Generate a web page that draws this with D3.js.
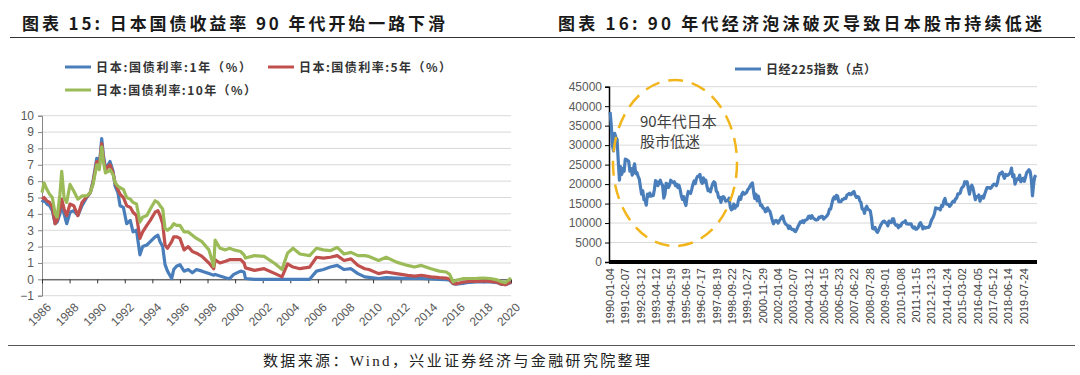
<!DOCTYPE html>
<html>
<head>
<meta charset="utf-8">
<script src="https://cdn.jsdelivr.net/npm/d3@7"></script>
<style>
body{margin:0;background:#fff}
svg{display:block}
text{font-family:"Liberation Sans",Arial,sans-serif}
.cjk{font-family:"Noto Sans CJK SC",sans-serif}
</style>
</head>
<body>
<svg id="chart" width="1080" height="375"></svg>
<script>
// ---- left chart: JGB yields (decimal years, %) ----
var yieldDates = [1986.0,1986.15,1986.35,1986.55,1986.75,1986.95,1987.1,1987.3,1987.43,1987.6,1987.79,1988.03,1988.3,1988.6,1988.9,
	1989.24,1989.5,1989.7,1989.97,1990.15,1990.33,1990.45,1990.6,1990.8,1990.93,1991.15,1991.3,1991.5,1991.66,1991.9,
	1992.14,1992.4,1992.6,1992.85,1993.1,1993.3,1993.6,1993.85,1994.2,1994.4,1994.56,1994.75,1994.92,1995.1,1995.4,
	1995.55,1995.75,1996.0,1996.3,1996.6,1996.9,1997.2,1997.6,1998.1,1998.45,1998.55,1998.9,1999.3,1999.6,1999.9,
	2000.4,2000.65,2000.75,2001.4,2002.1,2002.9,2003.4,2003.8,2004.2,2004.7,2005.4,2005.9,2006.4,2006.9,2007.4,
	2007.9,2008.4,2008.9,2009.4,2009.7,2010.4,2010.95,2011.7,2012.5,2013.0,2013.5,2014.2,2014.8,2015.3,2015.55,
	2015.8,2016.0,2016.5,2017.0,2017.5,2018.0,2018.5,2019.0,2019.3,2019.6,2020.0];
var jgb1y = [4.7,4.9,4.6,4.5,4.2,3.4,3.5,4.0,4.5,4.0,3.4,4.1,4.2,3.9,4.5,
	5.0,5.3,6.0,7.4,6.9,8.6,7.6,6.8,7.0,7.2,6.6,5.7,5.3,4.5,4.4,
	3.4,3.6,2.9,3.0,1.5,2.0,2.1,2.3,2.6,2.7,2.3,2.0,0.9,0.5,0.05,
	0.6,0.8,0.9,0.5,0.6,0.4,0.6,0.5,0.35,0.25,0.3,0.2,0.1,0.04,0.3,
	0.5,0.45,0.05,0.0,0.0,0.0,0.0,0.0,0.0,0.0,0.0,0.5,0.6,0.75,0.85,
	0.6,0.65,0.35,0.15,0.12,0.05,0.1,0.08,0.05,0.05,0.05,0.03,0.0,-0.02,-0.05,
	-0.27,-0.3,-0.25,-0.18,-0.15,-0.14,-0.15,-0.2,-0.3,-0.32,-0.2];
var jgb5y = [4.9,5.0,4.8,4.7,4.4,3.4,3.6,4.3,4.9,4.3,3.9,4.6,4.5,3.9,4.7,
	5.05,5.3,5.9,7.2,6.9,8.3,7.4,6.7,6.9,7.0,6.5,5.9,5.5,5.2,5.0,
	4.5,4.4,4.1,3.9,2.5,2.9,3.3,3.6,4.1,4.2,3.9,3.4,2.1,1.9,2.3,
	2.6,2.6,2.5,1.8,2.0,1.7,1.6,1.4,1.0,0.65,1.2,1.0,1.1,1.2,1.2,
	1.2,1.0,0.7,0.55,0.65,0.35,0.15,0.95,0.75,0.65,0.75,1.35,1.3,1.35,1.45,
	1.15,1.25,0.85,0.65,0.6,0.35,0.45,0.35,0.24,0.2,0.25,0.15,0.1,0.08,0.0,
	-0.25,-0.28,-0.18,-0.12,-0.12,-0.1,-0.12,-0.18,-0.3,-0.33,-0.15];
var jgb10y = [5.3,5.9,5.5,5.2,5.0,4.0,3.8,5.2,6.6,5.0,4.7,5.8,5.4,4.9,5.1,
	5.1,5.3,5.8,7.0,6.7,8.1,7.2,6.5,6.6,6.7,6.4,5.9,5.7,5.6,5.5,
	5.0,4.9,4.7,4.6,3.5,3.8,3.9,4.3,4.8,4.7,4.5,4.3,3.1,3.0,3.2,
	3.4,3.3,3.3,2.9,2.9,2.7,2.5,2.3,1.8,0.8,2.4,1.9,1.8,1.9,1.8,
	1.7,1.5,1.3,1.45,1.4,0.95,0.6,1.6,1.9,1.55,1.45,1.9,1.8,1.75,1.95,
	1.55,1.65,1.45,1.45,1.4,1.15,1.35,1.05,0.85,0.75,0.85,0.65,0.5,0.45,0.3,
	-0.15,-0.06,0.04,0.05,0.06,0.08,0.05,-0.03,-0.15,-0.2,0.08];
var yieldNames = ['日本:国债利率:1年（%）','日本:国债利率:5年（%）','日本:国债利率:10年（%）'];
var yieldColors = ['#4A7EBB','#C0504D','#9BBB59'];
var yearTicks = [1986,1988,1990,1992,1994,1996,1998,2000,2002,2004,2006,2008,2010,2012,2014,2016,2018,2020];

// ---- right chart: Nikkei 225 monthly, starting 1990-01 ----
var nikkeiStart = new Date(1990, 0, 4);
var nikkei = [
	38500,35000,30000,28500,33000,32000,31500,26000,21000,24500,22500,24000, //1990
	23300,26400,26300,26100,25800,23300,24000,22300,23900,25200,22700,23000, //1991
	22000,21300,19300,17400,18300,16000,15900,14600,17400,16800,17700,16900, //1992
	17000,17100,18600,20900,20600,19600,20400,21000,20100,19700,16400,17400, //1993
	20200,20000,19100,19700,21000,20600,20400,20600,19600,20000,19100,19700, //1994
	18600,17000,16100,16800,15400,14500,16700,18100,17900,17600,18700,19900, //1995
	20800,20100,21400,22000,22000,22500,20700,20200,21600,20500,21000,19400, //1996
	18300,18600,18000,19200,20100,20600,20300,18200,17900,16500,16600,15300, //1997
	16600,16800,16500,15600,15700,15800,16400,14100,13400,13600,14900,13800, //1998
	14500,14400,15800,16700,16100,17500,17900,17400,17600,17900,18600,18900, //1999
	19500,20000,20300,18000,16300,17400,15700,16900,15700,14500,14600,13800, //2000
	13800,12900,13000,13900,13300,13000,11900,10700,9800,10400,10700,10500,  //2001
	10000,10600,11000,11500,11800,10600,9900,9600,9400,8600,9200,8600,       //2002
	8300,8400,8000,7800,8400,9100,9600,10300,10200,10600,10100,10700,        //2003
	10800,11000,11700,11800,11200,11900,11300,11100,10800,10800,10900,11500, //2004
	11400,11700,11700,11000,11300,11600,11900,12400,13600,13600,14900,16100, //2005
	16700,16200,17100,16900,15500,15500,15500,16100,16100,16400,16300,17200, //2006
	17400,17600,17300,17400,17900,18100,17200,16600,16800,16700,15700,15300, //2007
	13600,13600,12500,13800,14300,13500,13400,13100,11300,8600,8500,8900,    //2008
	8000,7600,8100,8800,9500,10000,10400,10500,10100,10000,9300,10500,       //2009
	10200,10100,11100,11100,9800,9400,9500,8800,9400,9200,9900,10200,        //2010
	10200,10600,9800,9800,9700,9800,9800,9000,8700,9000,8400,8500,           //2011
	8800,9700,10100,9500,8500,9000,8700,8800,8900,8900,9400,10400,           //2012
	11100,11600,12400,13900,13800,13700,13700,13400,14500,14300,15700,16300, //2013
	14900,14800,14800,14300,14600,15200,15600,15400,16200,16400,17500,17500, //2014
	17700,18800,19200,19500,20600,20200,20600,18900,17400,19100,19700,19000, //2015
	17500,16000,16800,16700,17200,15600,16600,16900,16400,17400,18300,19100, //2016
	19000,19100,18900,19200,19700,20000,19900,19600,20400,22000,22700,22800, //2017
	23100,22100,21500,22500,22200,22300,22600,22900,24100,21900,22400,20000, //2018
	20800,21400,21200,22300,20600,21300,21500,20700,21800,22900,23300,23700, //2019
	23200,21100,17000,20200,21900,22300                                      //2020
];
var nikkeiLabels = ['1990-01-04','1991-02-07','1992-03-12','1993-04-12','1994-05-19','1995-06-19','1996-07-17',
	'1997-08-19','1998-09-22','1999-10-27','2000-11-29','2002-01-04','2003-02-07','2004-03-12','2005-04-15',
	'2006-05-23','2007-06-22','2008-07-28','2009-09-01','2010-10-08','2011-11-15','2012-12-13','2014-01-24',
	'2015-03-02','2016-04-05','2017-05-12','2018-06-14','2019-07-24'];
var nikkeiTicks = [0,5000,10000,15000,20000,25000,30000,35000,40000,45000];

var svg = d3.select('#chart');

///////////////////////////
// headers and footer
///////////////////////////
function drawFrame(){
	svg.append('text').attr('class','cjk')
		.attr('x', 22).attr('y', 30)
		.attr('textLength', 423).attr('lengthAdjust','spacing')
		.style('font-size','17px').style('font-weight','bold').style('fill','#1a1a1a')
		.text('图表 15: 日本国债收益率 90 年代开始一路下滑');
	svg.append('text').attr('class','cjk')
		.attr('x', 558).attr('y', 30)
		.attr('textLength', 484).attr('lengthAdjust','spacing')
		.style('font-size','17px').style('font-weight','bold').style('fill','#1a1a1a')
		.text('图表 16: 90 年代经济泡沫破灭导致日本股市持续低迷');
	svg.append('line').attr('x1',10).attr('x2',1075).attr('y1',37.5).attr('y2',37.5)
		.attr('stroke','#333').attr('stroke-width',1);
	svg.append('line').attr('x1',8).attr('x2',1075).attr('y1',345.5).attr('y2',345.5)
		.attr('stroke','#555').attr('stroke-width',1);
	svg.append('text')
		.attr('x', 263).attr('y', 366)
		.attr('textLength', 387).attr('lengthAdjust','spacing')
		.style('font-family','"Liberation Serif","Noto Sans CJK SC",serif')
		.style('font-size','15px').style('fill','#222')
		.text('数据来源：Wind，兴业证券经济与金融研究院整理');
}

///////////////////////////
// left chart
///////////////////////////
function drawYields(){
	var x = d3.scaleLinear().domain([1986, 2020]).range([42, 511]);
	var y = d3.scaleLinear().domain([-1, 10]).range([295.7, 115.7]);
	var g = svg.append('g');

	// grid
	g.selectAll('line.grid').data(d3.range(-1, 11)).enter()
		.append('line')
		.attr('x1', x(1986)).attr('x2', x(2020))
		.attr('y1', function(d){return y(d)}).attr('y2', function(d){return y(d)})
		.attr('stroke', '#D9D9D9').attr('stroke-width', 1);

	var yAxis = g.append('g').attr('transform','translate('+x(1986)+',0)')
		.call(d3.axisLeft(y).tickValues(d3.range(-1, 11)).tickSize(4).tickPadding(4).tickFormat(d3.format('d')));
	yAxis.select('.domain').attr('stroke','#868686');
	yAxis.selectAll('.tick line').attr('stroke','#868686');
	yAxis.selectAll('text').style('font-size','12px').style('fill','#595959')
		.style('font-family','"Liberation Sans",Arial,sans-serif');

	var xAxis = g.append('g').attr('transform','translate(0,'+y(0)+')')
		.call(d3.axisBottom(x).tickValues(yearTicks).tickSize(4).tickFormat(''));
	xAxis.select('.domain').attr('stroke','#333');
	xAxis.selectAll('.tick line').attr('stroke','#333');

	g.selectAll('text.yr').data(yearTicks).enter()
		.append('text')
		.attr('transform', function(d){return 'translate('+(x(d)+4)+',302) rotate(-45)'})
		.attr('text-anchor','end').attr('dy','0.7em')
		.style('font-size','12px').style('fill','#595959')
		.text(function(d){return d});

	var series = [jgb1y, jgb5y, jgb10y];
	var line = d3.line()
		.x(function(d,i){return x(yieldDates[i])})
		.y(function(d){return y(d)});
	g.selectAll('path.yld').data(series).enter()
		.append('path')
		.attr('d', line)
		.attr('fill','none')
		.attr('stroke', function(d,i){return yieldColors[i]})
		.attr('stroke-width', 3.2)
		.attr('stroke-linejoin','round');

	// legend
	var pos = [[65,67],[268,67],[65,90]];
	var widths = [155, 152, 160];
	yieldNames.forEach(function(n, i){
		g.append('line')
			.attr('x1', pos[i][0]).attr('x2', pos[i][0]+26)
			.attr('y1', pos[i][1]).attr('y2', pos[i][1])
			.attr('stroke', yieldColors[i]).attr('stroke-width', 3);
		g.append('text').attr('class','cjk')
			.attr('x', pos[i][0]+31).attr('y', pos[i][1]+4.5)
			.attr('textLength', widths[i]).attr('lengthAdjust','spacing')
			.style('font-size','12px').style('font-weight','bold').style('fill','#333')
			.text(n);
	});
}

///////////////////////////
// right chart
///////////////////////////
function drawNikkei(){
	var dates = nikkei.map(function(d,i){return d3.timeMonth.offset(nikkeiStart, i)});
	var x = d3.scaleTime().domain([new Date(1990,0,1), new Date(2020,5,30)]).range([610, 1037]);
	var y = d3.scaleLinear().domain([0, 45000]).range([262, 86.7]);
	var g = svg.append('g');

	g.selectAll('line.grid').data(nikkeiTicks.slice(1)).enter()
		.append('line')
		.attr('x1', 609).attr('x2', 1037)
		.attr('y1', function(d){return y(d)}).attr('y2', function(d){return y(d)})
		.attr('stroke', '#D9D9D9').attr('stroke-width', 1);

	var yAxis = g.append('g').attr('transform','translate(609,0)')
		.call(d3.axisLeft(y).tickValues(nikkeiTicks).tickSize(4).tickPadding(3).tickFormat(d3.format('d')));
	yAxis.select('.domain').attr('stroke','#000').attr('stroke-width',1.5);
	yAxis.selectAll('.tick line').attr('stroke','#000');
	yAxis.selectAll('text').style('font-size','12px').style('fill','#595959')
		.style('font-family','"Liberation Sans",Arial,sans-serif');

	var line = d3.line()
		.x(function(d,i){return x(dates[i])})
		.y(function(d){return y(d)});
	g.append('path').datum(nikkei)
		.attr('d', line)
		.attr('fill','none')
		.attr('stroke','#4A7EBB')
		.attr('stroke-width', 3.2)
		.attr('stroke-linejoin','round');

	// thick category axis
	g.append('line').attr('x1', 609).attr('x2', 1037).attr('y1', y(0)).attr('y2', y(0))
		.attr('stroke','#000').attr('stroke-width', 4);

	var parse = d3.timeParse('%Y-%m-%d');
	g.selectAll('text.dt').data(nikkeiLabels).enter()
		.append('text')
		.attr('transform', function(d){return 'translate('+x(parse(d))+',268) rotate(-90)'})
		.attr('text-anchor','end').attr('dy','0.35em')
		.style('font-size','11px').style('fill','#404040')
		.text(function(d){return d});

	// legend
	g.append('line').attr('x1', 735).attr('x2', 761).attr('y1', 69).attr('y2', 69)
		.attr('stroke','#4A7EBB').attr('stroke-width', 3);
	g.append('text').attr('class','cjk')
		.attr('x', 766).attr('y', 73.5)
		.attr('textLength', 110).attr('lengthAdjust','spacing')
		.style('font-size','12px').style('font-weight','bold').style('fill','#333')
		.text('日经225指数（点）');

	// annotation
	g.append('ellipse')
		.attr('cx', 675).attr('cy', 163).attr('rx', 62).attr('ry', 83)
		.attr('fill','none').attr('stroke','#F2B61C').attr('stroke-width', 2.5)
		.attr('stroke-dasharray','15,9');
	g.append('text').attr('class','cjk')
		.attr('x', 640).attr('y', 127)
		.style('font-size','15px').style('fill','#404040')
		.text('90年代日本');
	g.append('text').attr('class','cjk')
		.attr('x', 640).attr('y', 147)
		.style('font-size','15px').style('fill','#404040')
		.text('股市低迷');
}

drawFrame();
drawYields();
drawNikkei();
</script>
</body>
</html>
